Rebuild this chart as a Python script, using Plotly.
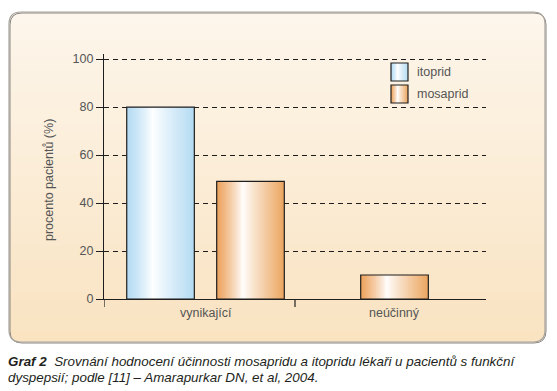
import plotly.graph_objects as go

# ---- data ----
categories = ["vynikající", "neúčinný"]
itoprid = [80, 0]
mosaprid = [49, 10]
series_names = ["itoprid", "mosaprid"]
y_ticks = [0, 20, 40, 60, 80, 100]
y_title = "procento pacientů (%)"
caption_bold = "Graf 2"
caption_1 = "Srovnání hodnocení účinnosti mosapridu a itopridu lékaři u pacientů s funkční"
caption_2 = "dyspepsií; podle [11] – Amarapurkar DN, et al, 2004."

# page body has an 8px default margin -> figure is drawn 8px smaller
OFF = 8
W, H = 557 - OFF, 391 - OFF
PLOT_L, PLOT_R, PLOT_T, PLOT_B = 104, 486, 54, 299   # reference pixel positions
L, R, T, B = PLOT_L - OFF, 557 - PLOT_R, PLOT_T - OFF, 391 - PLOT_B
PW = PLOT_R - PLOT_L
PH = PLOT_B - PLOT_T
FONT = "Liberation Sans, Arial, sans-serif"

def px2x(px):
    return (px - PLOT_L) / PW

def py2y(py):
    return (PLOT_B - py) / PH

def lerp(c1, c2, t):
    return tuple(int(round(a + (b - a) * t)) for a, b in zip(c1, c2))

def rgb(c):
    return "rgb(%d,%d,%d)" % c

WHITE = (255, 255, 255)
BLUE_L, BLUE_R = (178, 218, 243), (180, 219, 242)
ORANGE_L, ORANGE_R = (236, 160, 90), (236, 166, 96)

def grad_color(t, cl, cr, peak=0.38):
    if t <= peak:
        d = (peak - t) / peak
        return lerp(WHITE, cl, d ** 0.8)
    d = (t - peak) / (1 - peak)
    return lerp(WHITE, cr, d ** 0.9)

fig = go.Figure()

bar_w = 0.354
offsets = {
    "itoprid": [-0.381, -0.381],
    "mosaprid": [0.090, -0.156],
}
colors = {"itoprid": (BLUE_L, BLUE_R), "mosaprid": (ORANGE_L, ORANGE_R)}
values = {"itoprid": itoprid, "mosaprid": mosaprid}

N = 40
for name in series_names:
    cl, cr = colors[name]
    vals = values[name]
    for i in range(N):
        t = (i + 0.5) / N
        offs = [o + i * bar_w / N for o in offsets[name]]
        wd = min(bar_w / N * 1.6, bar_w - i * bar_w / N)
        fig.add_trace(go.Bar(
            x=categories, y=vals, offset=offs, width=wd,
            marker=dict(color=rgb(grad_color(t, cl, cr)), line=dict(width=0)),
            showlegend=False, hoverinfo="skip",
        ))
    fig.add_trace(go.Bar(
        x=categories, y=vals, offset=offsets[name], width=bar_w, name=name,
        marker=dict(color="rgba(0,0,0,0)",
                    line=dict(color="#1e1e1e", width=[1.2 if v else 0 for v in vals])),
        showlegend=False,
    ))

shapes = []

# panel background with vertical gradient and rounded corners
x0p, x1p, y0p, y1p = 9, 545, 12, 342
rpx = 12
TOP_C, BOT_C = (253, 246, 236), (249, 227, 193)

def rounded_path(xa, xb, ya, yb, r, top=True, bottom=True):
    X0, X1 = px2x(xa), px2x(xb)
    Yt, Yb = py2y(ya), py2y(yb)
    rx, ry = r / PW, r / PH
    p = []
    if top:
        p.append("M %f,%f" % (X0 + rx, Yt))
        p.append("L %f,%f" % (X1 - rx, Yt))
        p.append("Q %f,%f %f,%f" % (X1, Yt, X1, Yt - ry))
    else:
        p.append("M %f,%f" % (X0, Yt))
        p.append("L %f,%f" % (X1, Yt))
    if bottom:
        p.append("L %f,%f" % (X1, Yb + ry))
        p.append("Q %f,%f %f,%f" % (X1, Yb, X1 - rx, Yb))
        p.append("L %f,%f" % (X0 + rx, Yb))
        p.append("Q %f,%f %f,%f" % (X0, Yb, X0, Yb + ry))
    else:
        p.append("L %f,%f" % (X1, Yb))
        p.append("L %f,%f" % (X0, Yb))
    if top:
        p.append("L %f,%f" % (X0, Yt - ry))
        p.append("Q %f,%f %f,%f" % (X0, Yt, X0 + rx, Yt))
    p.append("Z")
    return " ".join(p)

shapes.append(dict(type="path", xref="paper", yref="paper", layer="below",
                   path=rounded_path(x0p, x1p, y0p, y0p + rpx + 1, rpx, True, False),
                   fillcolor=rgb(TOP_C), line=dict(width=0)))
shapes.append(dict(type="path", xref="paper", yref="paper", layer="below",
                   path=rounded_path(x0p, x1p, y1p - rpx - 1, y1p, rpx, False, True),
                   fillcolor=rgb(BOT_C), line=dict(width=0)))
band_top, band_bot = y0p + rpx, y1p - rpx
nb = 40
step = (band_bot - band_top) / nb
for k in range(nb):
    ya = band_top + k * step
    yb = ya + step + 0.8
    t = (ya + step / 2 - y0p) / (y1p - y0p)
    shapes.append(dict(type="rect", xref="paper", yref="paper", layer="below",
                       x0=px2x(x0p), x1=px2x(x1p), y0=py2y(min(yb, band_bot)), y1=py2y(ya),
                       fillcolor=rgb(lerp(TOP_C, BOT_C, t)), line=dict(width=0)))
# shadow + border
shapes.append(dict(type="path", xref="paper", yref="paper", layer="below",
                   path=rounded_path(x0p + 1, x1p + 1, y0p + 1, y1p + 1, rpx),
                   fillcolor="rgba(0,0,0,0)", line=dict(color="#8a8580", width=1)))
shapes.append(dict(type="path", xref="paper", yref="paper", layer="below",
                   path=rounded_path(x0p, x1p, y0p, y1p, rpx),
                   fillcolor="rgba(0,0,0,0)", line=dict(color="#a8a49e", width=1.2)))

# x axis boundary ticks
for xb in (-0.5, 0.5):
    shapes.append(dict(type="line", xref="x", yref="paper", x0=xb, x1=xb,
                       y0=0, y1=-8 / PH, line=dict(color="#1e1e1e", width=1.2)))

# custom legend boxes with gradients
leg = [("itoprid", 63, 81, BLUE_L, BLUE_R), ("mosaprid", 85, 103, ORANGE_L, ORANGE_R)]
lx0, lx1 = 391, 408
annotations = []
for name, ya, yb, cl, cr in leg:
    ns = 17
    for i in range(ns):
        t = (i + 0.5) / ns
        xa = lx0 + (lx1 - lx0) * i / ns
        xb = min(lx1, xa + (lx1 - lx0) / ns + 0.6)
        shapes.append(dict(type="rect", xref="paper", yref="paper",
                           x0=px2x(xa), x1=px2x(xb), y0=py2y(yb), y1=py2y(ya),
                           fillcolor=rgb(grad_color(t, cl, cr)), line=dict(width=0)))
    shapes.append(dict(type="rect", xref="paper", yref="paper",
                       x0=px2x(lx0), x1=px2x(lx1), y0=py2y(yb), y1=py2y(ya),
                       fillcolor="rgba(0,0,0,0)", line=dict(color="#1e1e1e", width=1.2)))
    annotations.append(dict(xref="paper", yref="paper", x=px2x(415), y=py2y((ya + yb) / 2),
                            xanchor="left", yanchor="middle", showarrow=False, text=name,
                            font=dict(family=FONT, size=12.5, color="#555555")))

# category labels (centred under bars)
for cat, sh in zip(categories, (6, 4)):
    annotations.append(dict(xref="x", yref="paper", x=cat, y=py2y(313), xshift=sh,
                            xanchor="center", yanchor="middle", showarrow=False, text=cat,
                            font=dict(family=FONT, size=12.5, color="#555555")))

# y title
annotations.append(dict(xref="paper", yref="paper", x=px2x(49), y=py2y(180),
                        xanchor="center", yanchor="middle", showarrow=False, text=y_title,
                        textangle=-90, font=dict(family=FONT, size=12.5, color="#555555")))

# caption
annotations.append(dict(xref="paper", yref="paper", x=px2x(6), y=py2y(361),
                        xanchor="left", yanchor="middle", showarrow=False,
                        text="<b><i>%s</i></b>  <i>%s</i>" % (caption_bold, caption_1),
                        font=dict(family=FONT, size=13.4, color="#231f20")))
annotations.append(dict(xref="paper", yref="paper", x=px2x(6), y=py2y(377),
                        xanchor="left", yanchor="middle", showarrow=False,
                        text="<i>%s</i>" % caption_2,
                        font=dict(family=FONT, size=13.4, color="#231f20")))

fig.update_layout(
    width=W, height=H,
    margin=dict(l=L, r=R, t=T, b=B, pad=0, autoexpand=False),
    paper_bgcolor="white",
    plot_bgcolor="rgba(0,0,0,0)",
    barmode="overlay",
    showlegend=False,
    shapes=shapes,
    annotations=annotations,
    font=dict(family=FONT, size=12.5, color="#555555"),
    xaxis=dict(type="category", categoryorder="array", categoryarray=categories,
               range=[-0.5, 1.5], showticklabels=False, ticks="",
               showline=True, linecolor="#1e1e1e", linewidth=1.2,
               showgrid=False, zeroline=False, fixedrange=True),
    yaxis=dict(range=[0, 102.1], tickvals=y_ticks, ticks="outside", ticklen=7,
               tickcolor="#1e1e1e", tickwidth=1.2,
               showline=True, linecolor="#1e1e1e", linewidth=1.2,
               showgrid=True, gridcolor="#1e1e1e", gridwidth=1, griddash="5px,4px",
               zeroline=False, tickfont=dict(family=FONT, size=12.5, color="#555555"),
               fixedrange=True),
)

fig.write_html("out.html")
